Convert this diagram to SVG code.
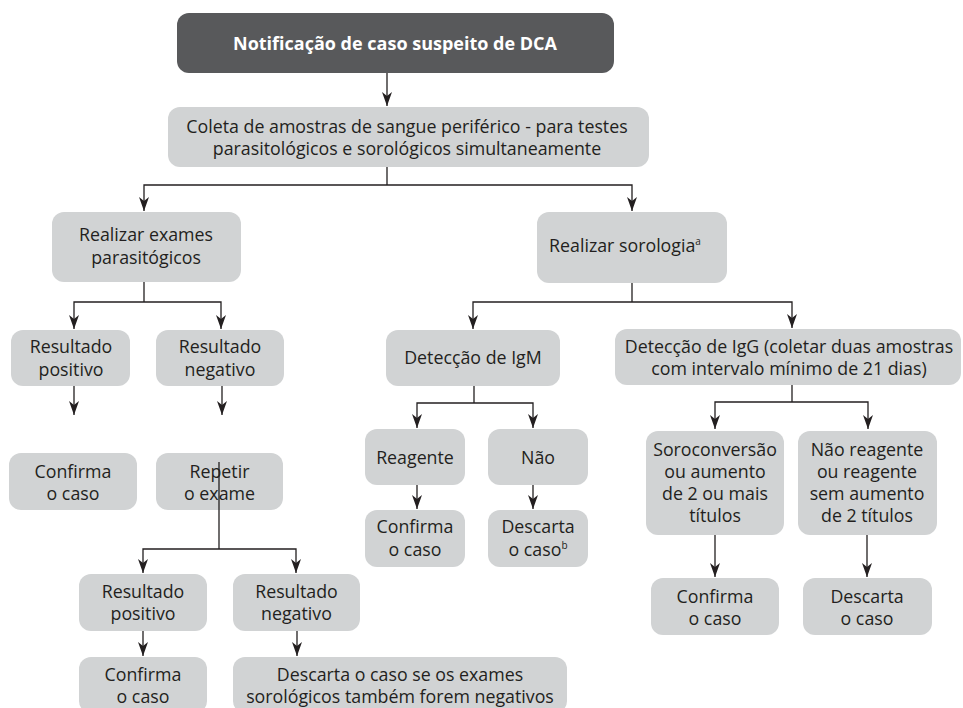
<svg xmlns="http://www.w3.org/2000/svg" width="963" height="708" viewBox="0 0 963 708">
<style>
.box{fill:#d1d3d4;}
.dark{fill:#58595b;}
.t{font-family:"Open Sans","Noto Sans","DejaVu Sans",sans-serif;font-size:17.8px;fill:#231f20;text-anchor:middle;}
.tb{font-family:"Open Sans","Noto Sans","DejaVu Sans",sans-serif;font-size:18px;font-weight:bold;fill:#ffffff;text-anchor:middle;}
.sup{font-size:10px;}
.c{fill:none;stroke:#231f20;stroke-width:1.3;}
.a{fill:none;stroke:#231f20;stroke-width:1.3;marker-end:url(#arr);}
</style>
<defs>
<marker id="arr" viewBox="0 0 14 10" refX="14" refY="5" markerWidth="14" markerHeight="10" markerUnits="userSpaceOnUse" orient="auto">
<path d="M0,0 L14,5 L0,10 L4,5 Z" fill="#231f20"/>
</marker>
</defs>
<g id="n_notif"><rect class="dark" x="177" y="13" width="437" height="60" rx="12"/><text class="tb" x="395" y="50">Notificação de caso suspeito de DCA</text></g>
<g id="n_coleta"><rect class="box" x="168" y="107" width="481" height="60" rx="12"/><text class="t" x="407" y="133">Coleta de amostras de sangue periférico - para testes</text><text class="t" x="407" y="155">parasitológicos e sorológicos simultaneamente</text></g>
<g id="n_paras"><rect class="box" x="52" y="212" width="189" height="70" rx="12"/><text class="t" x="146" y="241">Realizar exames</text><text class="t" x="146" y="264">parasitógicos</text></g>
<g id="n_sorol"><rect class="box" x="537" y="212" width="190" height="71" rx="12"/><text class="t" x="625" y="252">Realizar sorologia<tspan class="sup" dy="-7">a</tspan></text></g>
<g id="n_respos1"><rect class="box" x="11" y="330" width="119" height="56" rx="12"/><text class="t" x="71" y="353">Resultado</text><text class="t" x="71" y="376">positivo</text></g>
<g id="n_resneg1"><rect class="box" x="156" y="330" width="128" height="56" rx="12"/><text class="t" x="220" y="353">Resultado</text><text class="t" x="220" y="376">negativo</text></g>
<g id="n_conf1"><rect class="box" x="9" y="453" width="128" height="57" rx="12"/><text class="t" x="73" y="478">Confirma</text><text class="t" x="73" y="500">o caso</text></g>
<g id="n_repetir"><rect class="box" x="156" y="453" width="127" height="57" rx="12"/><text class="t" x="219.5" y="478">Repetir</text><text class="t" x="219.5" y="500">o exame</text></g>
<g id="n_respos2"><rect class="box" x="79" y="574" width="128" height="57" rx="12"/><text class="t" x="143" y="598">Resultado</text><text class="t" x="143" y="620">positivo</text></g>
<g id="n_resneg2"><rect class="box" x="233" y="574" width="127" height="57" rx="12"/><text class="t" x="296.5" y="598">Resultado</text><text class="t" x="296.5" y="620">negativo</text></g>
<g id="n_conf2"><rect class="box" x="79" y="657" width="128" height="56" rx="12"/><text class="t" x="143" y="681">Confirma</text><text class="t" x="143" y="703">o caso</text></g>
<g id="n_desc2"><rect class="box" x="233" y="657" width="334" height="56" rx="12"/><text class="t" x="400" y="681">Descarta o caso se os exames</text><text class="t" x="400" y="703">sorológicos também forem negativos</text></g>
<g id="n_igm"><rect class="box" x="386" y="330" width="174" height="56" rx="12"/><text class="t" x="473" y="364">Detecção de IgM</text></g>
<g id="n_igg"><rect class="box" x="615" y="329" width="346" height="56" rx="12"/><text class="t" x="789" y="353">Detecção de IgG (coletar duas amostras</text><text class="t" x="789" y="375">com intervalo mínimo de 21 dias)</text></g>
<g id="n_reag"><rect class="box" x="365" y="429" width="100" height="56" rx="12"/><text class="t" x="415" y="464">Reagente</text></g>
<g id="n_nao"><rect class="box" x="488" y="429" width="100" height="56" rx="12"/><text class="t" x="538" y="464">Não</text></g>
<g id="n_conf3"><rect class="box" x="365" y="510" width="100" height="57" rx="12"/><text class="t" x="415" y="533">Confirma</text><text class="t" x="415" y="556">o caso</text></g>
<g id="n_desc3"><rect class="box" x="488" y="510" width="100" height="57" rx="12"/><text class="t" x="538" y="533">Descarta</text><text class="t" x="538" y="556">o caso<tspan class="sup" dy="-7">b</tspan></text></g>
<g id="n_soro"><rect class="box" x="646" y="431" width="138" height="104" rx="12"/><text class="t" x="715" y="456">Soroconversão</text><text class="t" x="715" y="478">ou aumento</text><text class="t" x="715" y="500">de 2 ou mais</text><text class="t" x="715" y="522">títulos</text></g>
<g id="n_naoreag"><rect class="box" x="798" y="431" width="139" height="104" rx="12"/><text class="t" x="867" y="456">Não reagente</text><text class="t" x="867" y="478">ou reagente</text><text class="t" x="867" y="500">sem aumento</text><text class="t" x="867" y="522">de 2 títulos</text></g>
<g id="n_conf4"><rect class="box" x="651" y="578" width="128" height="57" rx="12"/><text class="t" x="715" y="603">Confirma</text><text class="t" x="715" y="625">o caso</text></g>
<g id="n_desc4"><rect class="box" x="803" y="578" width="129" height="57" rx="12"/><text class="t" x="867" y="603">Descarta</text><text class="t" x="867" y="625">o caso</text></g>
<g id="connectors">
<line class="a" x1="387" y1="73" x2="387" y2="106"/>
<polyline class="c" points="387,167 387,185"/>
<polyline class="a" points="387,185 144,185 144,211"/>
<polyline class="a" points="387,185 632,185 632,211"/>
<polyline class="c" points="144,282 144,302"/>
<polyline class="a" points="144,302 74,302 74,329"/>
<polyline class="a" points="144,302 221,302 221,329"/>
<line class="a" x1="74" y1="386" x2="74" y2="415"/>
<line class="a" x1="222" y1="386" x2="222" y2="415"/>
<polyline class="c" points="219,462 219,549"/>
<polyline class="a" points="219,549 143,549 143,573"/>
<polyline class="a" points="219,549 296,549 296,573"/>
<line class="a" x1="143" y1="631" x2="143" y2="656"/>
<line class="a" x1="297" y1="631" x2="297" y2="656"/>
<polyline class="c" points="632,283 632,302"/>
<polyline class="a" points="632,302 473,302 473,329"/>
<polyline class="a" points="632,302 792,302 792,328"/>
<polyline class="c" points="474,386 474,403"/>
<polyline class="a" points="474,403 417,403 417,428"/>
<polyline class="a" points="474,403 533,403 533,428"/>
<line class="a" x1="417" y1="485" x2="417" y2="509"/>
<line class="a" x1="533" y1="485" x2="533" y2="509"/>
<polyline class="c" points="792,385 792,402"/>
<polyline class="a" points="792,402 715,402 715,429"/>
<polyline class="a" points="792,402 868,402 868,429"/>
<line class="a" x1="715" y1="535" x2="715" y2="577"/>
<line class="a" x1="867" y1="535" x2="867" y2="577"/>
</g>
</svg>
